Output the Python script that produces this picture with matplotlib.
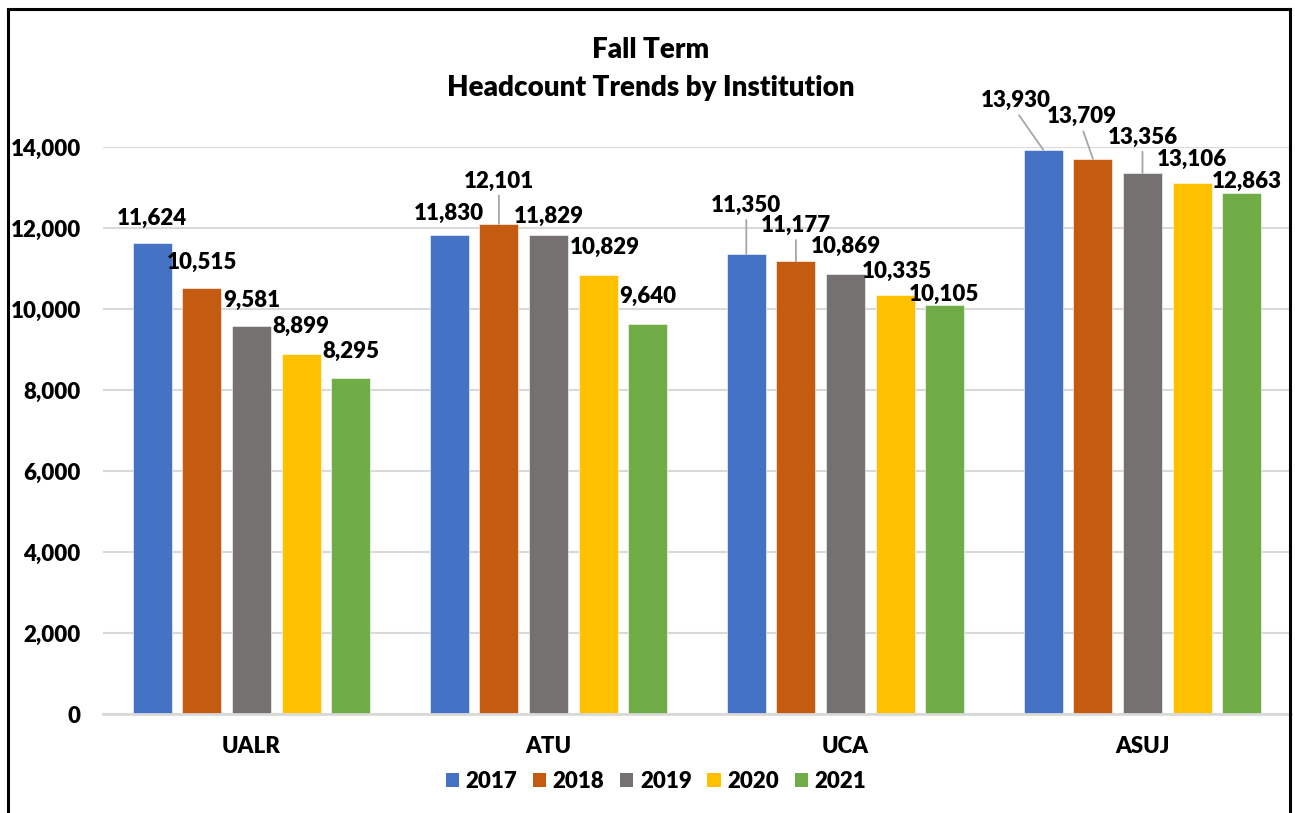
import matplotlib
matplotlib.use("Agg")
import matplotlib.pyplot as plt
from matplotlib.patches import Patch
from matplotlib.lines import Line2D
from matplotlib.ticker import FuncFormatter
import numpy as np

# ---------------- data ----------------
institutions = ["UALR", "ATU", "UCA", "ASUJ"]
years = ["2017", "2018", "2019", "2020", "2021"]
h2017 = [11624, 11830, 11350, 13930]
h2018 = [10515, 12101, 11177, 13709]
h2019 = [9581, 11829, 10869, 13356]
h2020 = [8899, 10829, 10335, 13106]
h2021 = [8295, 9640, 10105, 12863]
series = [h2017, h2018, h2019, h2020, h2021]
yticks = [0, 2000, 4000, 6000, 8000, 10000, 12000, 14000]
title_line1 = "Fall Term"
title_line2 = "Headcount Trends by Institution"

# ---------------- style ----------------
colors = ["#4472C4", "#C55A11", "#767171", "#FFC000", "#70AD47"]
FONT = "Lato"
WEIGHT = "heavy"
FS = 16
W, H = 1295, 813
# label offsets in pixels (dx, dy up) relative to bar-top centre, and leader flag
label_offsets = {
    (0, 0): (0, 25, False), (1, 0): (0, 26, False), (2, 0): (0, 26, False),
    (3, 0): (0, 27, False), (4, 0): (0, 27, False),
    (0, 1): (0, 21, False), (1, 1): (0, 43, True), (2, 1): (0, 19, False),
    (3, 1): (7, 28, False), (4, 1): (0, 27, False),
    (0, 2): (0, 49, True), (1, 2): (0, 36, True), (2, 2): (0, 27, False),
    (3, 2): (2, 24, False), (4, 2): (-1, 10, False),
    (0, 3): (-27, 49, True), (1, 3): (-11, 42, True), (2, 3): (0, 36, True),
    (3, 3): (0, 24, False), (4, 3): (5, 12, False),
}

fig = plt.figure(figsize=(W / 100, H / 100), dpi=100)
fig.patch.set_facecolor("white")

ax = fig.add_axes([103 / W, 1 - 714 / H, (1291 - 103) / W, (714 - 147) / H])

x = np.arange(len(institutions))
pitch = 0.167
bw = 0.131
for i, (vals, col, yr) in enumerate(zip(series, colors, years)):
    xs = x + (i - 2) * pitch
    ax.bar(xs, vals, width=bw, color=col, label=yr, zorder=3,
           edgecolor="white", linewidth=0.4)
    for j, (xx, v) in enumerate(zip(xs, vals)):
        dx, dy, leader = label_offsets[(i, j)]
        kw = {}
        if leader:
            kw["arrowprops"] = dict(arrowstyle="-", color="#A6A6A6", lw=1.3,
                                    shrinkA=1, shrinkB=0, relpos=(0.5, 0.0))
        ax.annotate(f"{v:,}", xy=(xx, v), xytext=(dx * 0.72, dy * 0.72),
                    textcoords="offset points", ha="center", va="center",
                    fontsize=FS, fontweight=WEIGHT, family=FONT,
                    color="black", annotation_clip=False, zorder=5, **kw)

ax.set_xlim(-0.5, len(institutions) - 0.5)
ax.set_ylim(0, 14000)
ax.set_yticks(yticks)
ax.yaxis.set_major_formatter(FuncFormatter(lambda v, p: f"{int(v):,}"))
ax.set_xticks(x)
ax.set_xticklabels(institutions)
ax.tick_params(axis="both", length=0)
ax.tick_params(axis="y", pad=16)
ax.tick_params(axis="x", pad=16)
for lab in ax.get_xticklabels() + ax.get_yticklabels():
    lab.set_fontfamily(FONT)
    lab.set_fontweight(WEIGHT)
    lab.set_fontsize(FS)
    lab.set_color("black")

ax.grid(axis="y", color="#D9D9D9", linewidth=1.5, zorder=0)
ax.set_axisbelow(True)
for s in ["top", "right", "left"]:
    ax.spines[s].set_visible(False)
ax.spines["bottom"].set_color("#D9D9D9")
ax.spines["bottom"].set_linewidth(2)
ax.spines["bottom"].set_zorder(4)
ax.set_facecolor("none")

# title
fig.text(651 / W, 1 - 50 / H, title_line1, ha="center", va="center",
         fontsize=20, fontweight=WEIGHT, family=FONT)
fig.text(651 / W, 1 - 88 / H, title_line2, ha="center", va="center",
         fontsize=20, fontweight=WEIGHT, family=FONT)

# legend
handles = [Patch(facecolor=c, edgecolor="none") for c in colors]
leg = fig.legend(handles, years, loc="center", bbox_to_anchor=(656 / W, 1 - 781 / H),
                 ncol=5, frameon=False, handlelength=0.6, handleheight=0.6,
                 handletextpad=0.3, columnspacing=0.7, borderpad=0,
                 prop={"family": FONT, "weight": WEIGHT, "size": FS})

# outer frame (left, top, right)
lw = 2.2
fig.add_artist(Line2D([8 / W, 8 / W], [-0.01, 1 - 9 / H], transform=fig.transFigure,
                      color="black", lw=lw, solid_capstyle="projecting"))
fig.add_artist(Line2D([8 / W, 1290 / W], [1 - 9 / H, 1 - 9 / H], transform=fig.transFigure,
                      color="black", lw=lw, solid_capstyle="projecting"))
fig.add_artist(Line2D([1290 / W, 1290 / W], [-0.01, 1 - 9 / H], transform=fig.transFigure,
                      color="black", lw=lw, solid_capstyle="projecting"))

fig.savefig("out.png", dpi=100, facecolor="white")
